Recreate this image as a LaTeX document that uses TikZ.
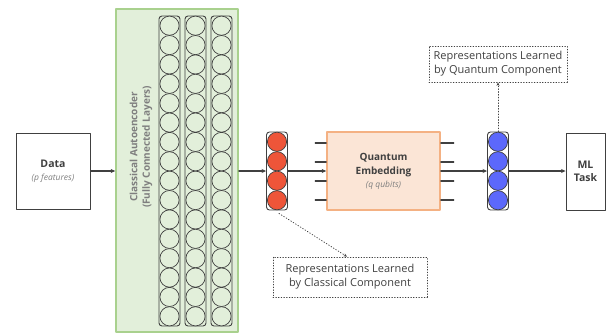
\documentclass[tikz,border=0pt]{standalone}
\usepackage{fontspec}
\setmainfont{Open Sans}
\usetikzlibrary{arrows.meta}

\definecolor{inkgray}{HTML}{404040}
\definecolor{softgray}{HTML}{7F7F7F}
\definecolor{aefill}{HTML}{E2EFDA}
\definecolor{aeline}{HTML}{A9D18E}
\definecolor{qfill}{HTML}{FBE5D6}
\definecolor{qline}{HTML}{F4B183}
\definecolor{latred}{HTML}{EE5539}
\definecolor{latblue}{HTML}{5C68FB}

\tikzset{
  box/.style={draw=inkgray, line width=0.9pt, fill=white, inner sep=0pt, align=center, text=inkgray},
  layer/.style={draw=inkgray, line width=0.9pt, rounded corners=3pt, minimum width=21pt, inner sep=0pt},
  unit/.style={draw=inkgray, line width=0.7pt},
  arr/.style={draw=inkgray, line width=1.1pt, -{Stealth[length=4.5pt,width=4pt]}},
  wire/.style={draw=inkgray, line width=1.1pt},
  note/.style={draw=inkgray, dotted, line width=0.7pt, inner sep=0pt, align=center, text=inkgray,
    font=\fontsize{11}{14}\selectfont},
  dotarr/.style={draw=inkgray, dotted, line width=0.8pt, -{Stealth[length=3.5pt,width=3pt]}}
}
\newcommand{\subnote}[1]{{\fontsize{8.5}{10}\selectfont\itshape\color{softgray}#1}}

\begin{document}
\begin{tikzpicture}[x=1pt, y=-1pt, line cap=round, line join=round]
  \useasboundingbox (0,0) rectangle (610,333);

  % input and output
  \node[box, minimum width=74pt, minimum height=76pt, font=\fontsize{10.5}{14}\selectfont] (data) at (53,171)
    {\textbf{Data}\\[-1pt]\subnote{(p features)}};
  \node[box, minimum width=39pt, minimum height=77pt, font=\fontsize{10.5}{13}\selectfont\bfseries] (task) at (585.5,171.5)
    {ML\\Task};

  % classical autoencoder
  \node[draw=aeline, fill=aefill, line width=1.6pt, minimum width=122pt, minimum height=323pt, inner sep=0pt]
    (auto) at (177,170.5) {};
  \node[rotate=90, align=center, text=softgray, font=\fontsize{10}{12.5}\selectfont\bfseries] (autolab) at (141,147)
    {Classical Autoencoder\\(Fully Connected Layers)};
  \foreach \i/\x in {1/169.5, 2/195.5, 3/221.5} {
    \node[layer, fill=aefill, minimum height=310pt] (enc\i) at (\x,171) {};
    \foreach \k in {1,...,16}
      \draw[unit, fill=aefill] (\x,{16+19.375*(\k-0.5)}) circle (9.6pt);
  }

  % latent layers
  \node[layer, fill=white, minimum height=78pt] (red) at (277,171) {};
  \foreach \k in {1,...,4}
    \draw[unit, fill=latred] (277,{132+19.5*(\k-0.5)}) circle (9.6pt);
  \node[layer, fill=white, minimum height=78pt] (blue) at (498,171) {};
  \foreach \k in {1,...,4}
    \draw[unit, fill=latblue] (498,{132+19.5*(\k-0.5)}) circle (9.6pt);

  % quantum embedding
  \node[box, draw=qline, fill=qfill, line width=1.6pt, minimum width=113pt, minimum height=78pt,
    font=\fontsize{10}{14}\selectfont] (qemb) at (383.5,171)
    {\textbf{Quantum}\\\textbf{Embedding}\\[-1pt]\subnote{(q qubits)}};
  \foreach \o in {28,9,-10,-29} {
    \draw[wire] ([xshift=-11pt,yshift=\o pt]qemb.west) -- ([yshift=\o pt]qemb.west);
    \draw[wire] ([yshift=\o pt]qemb.east) -- ([xshift=13pt,yshift=\o pt]qemb.east);
  }

  % notes
  \node[note, minimum width=138pt, minimum height=36pt] (qlab) at (498,64)
    {Representations Learned\\by Quantum Component};
  \node[note, minimum width=154pt, minimum height=40pt] (clab) at (350,277)
    {Representations Learned\\by Classical Component};

  % connectors
  \draw[arr] (data.east) -- (auto.west |- data);
  \draw[arr] (auto.east |- red) -- (red.west);
  \draw[arr] (red.east) -- (qemb.west);
  \draw[arr] (qemb.east) -- (blue.west);
  \draw[arr] (blue.east) -- (task.west |- blue);
  \draw[dotarr] (blue.north) -- (qlab.south);
  \draw[dotarr] ([xshift=2pt,yshift=-3pt]red.south) -- ([xshift=-3pt]clab.north);
\end{tikzpicture}
\end{document}
